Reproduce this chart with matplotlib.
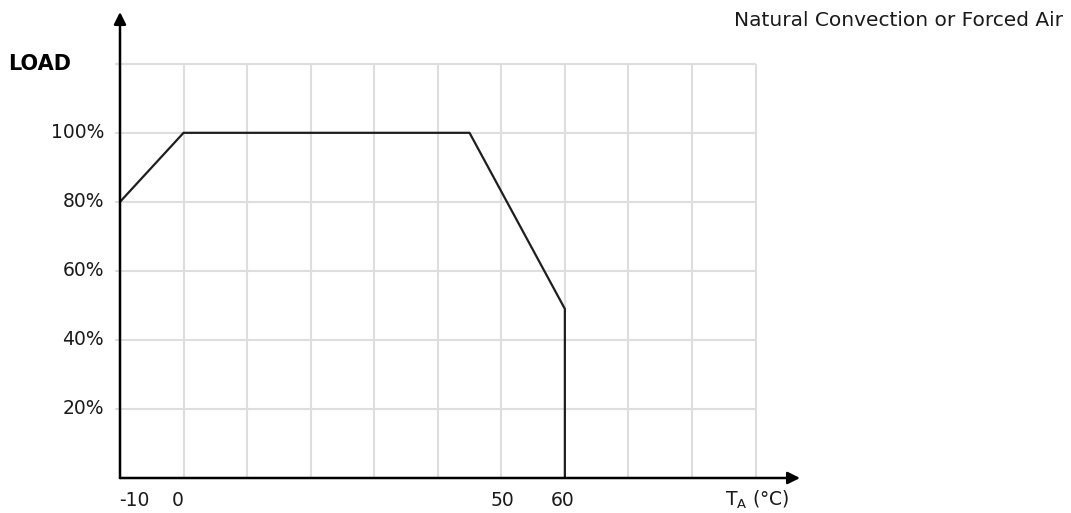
import matplotlib
matplotlib.use("Agg")
import matplotlib.pyplot as plt

plt.rcParams["font.family"] = ["DejaVu Sans"]
plt.rcParams["mathtext.fontset"] = "dejavusans"

# derating curve: ambient temperature (degC) vs load (%)
temp = [-10, 0, 45, 60, 60]
load = [80, 100, 100, 49, 0]

x_grid = [0, 10, 20, 30, 40, 50, 60, 70, 80, 90]
y_grid = [20, 40, 60, 80, 100, 120]
x_ticks = [-10, 0, 50, 60]
x_labels = ["-10", "0", "50", "60"]
y_ticks = [20, 40, 60, 80, 100]
y_labels = ["20%", "40%", "60%", "80%", "100%"]

X_MIN, X_MAX = -10, 97
Y_MIN, Y_MAX = 0, 135

fig = plt.figure(figsize=(10.71, 5.13), dpi=100)
ax = fig.add_axes([120 / 1071, 35 / 513, 680 / 1071, 466 / 513])
ax.set_xlim(X_MIN, X_MAX)
ax.set_ylim(Y_MIN, Y_MAX)
for s in ax.spines.values():
    s.set_visible(False)
ax.set_xticks([]); ax.set_yticks([])

grid_col = "#dedede"
ax.hlines(y_grid, -10.8, 90, colors=grid_col, lw=1.5, clip_on=False, zorder=1)
ax.vlines(x_grid, 0, 120, colors=grid_col, lw=1.5, zorder=1)

ax.plot(temp, load, color="#1e1e1e", lw=1.6, zorder=3)

# axes with arrowheads
arrow = dict(arrowstyle="-|>", color="black", lw=1.8, mutation_scale=18,
             shrinkA=0, shrinkB=0)
ax.annotate("", xy=(X_MAX, 0), xytext=(X_MIN, 0), arrowprops=arrow, zorder=4)
ax.annotate("", xy=(X_MIN, Y_MAX), xytext=(X_MIN, 0), arrowprops=arrow, zorder=4)

fs = 13.5
for t, lab in zip(y_ticks, y_labels):
    ax.text(-12.5, t, lab, ha="right", va="center", fontsize=fs, color="#1a1a1a")
# small nudges so the labels sit where the reference puts them
x_shift = {-10: 2.2, 0: -1.0, 50: 0.1, 60: -0.3}
for t, lab in zip(x_ticks, x_labels):
    ax.text(t + x_shift[t], -6.4, lab, ha="center", va="center",
            fontsize=fs, color="#1a1a1a")

ax.text(-27.6, 120, "LOAD", ha="left", va="center", fontsize=15,
        fontweight="bold", color="black")
ax.text(85.2, -6.4, "T$_\\mathrm{A}$ (°C)", ha="left", va="center", fontsize=fs,
        color="#1a1a1a")
fig.text(1063 / 1071, 1 - 20 / 513, "Natural Convection or Forced Air",
         ha="right", va="center", fontsize=14.5, color="#1a1a1a")

fig.savefig("out.png", dpi=100)
